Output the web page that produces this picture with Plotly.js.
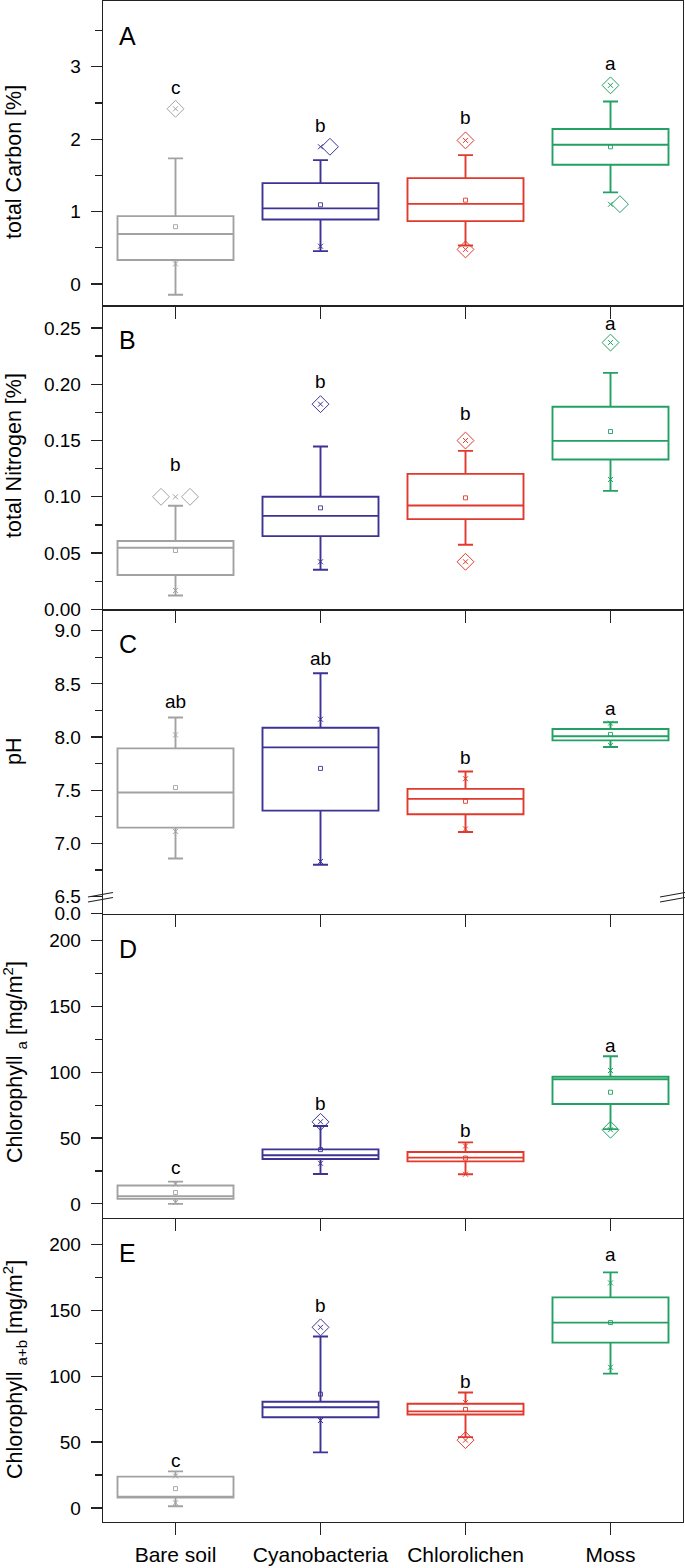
<!DOCTYPE html>
<html>
<head>
<meta charset="utf-8">
<script src="https://cdn.plot.ly/plotly-3.0.1.min.js"></script>
<style>html,body{margin:0;padding:0;background:#fff;}#chart{width:685px;height:1568px;}</style>
</head>
<body>
<div id="chart"></div>
<script>
// ---------------- data ----------------
const categories = ['Bare soil', 'Cyanobacteria', 'Chlorolichen', 'Moss'];

// Panel A: total Carbon [%]
const carbonLow    = [-0.15, 0.452, 0.531, 1.264];
const carbonQ1     = [0.33, 0.89, 0.867, 1.646];
const carbonMedian = [0.69, 1.043, 1.106, 1.923];
const carbonQ3     = [0.936, 1.393, 1.462, 2.14];
const carbonHigh   = [1.734, 1.71, 1.78, 2.52];
const carbonMean   = [0.79, 1.093, 1.157, 1.895];
const carbonP1     = [0.277, 0.52, 0.476, 1.10];
const carbonP99    = [2.42, 1.895, 1.983, 2.744];
const carbonOutliers = [[2.42], [1.895], [1.983, 0.476], [2.744, 1.102]];
const carbonOutlierJitter = [[0], [0.065], [0, 0], [0, 0.065]];
const carbonLetters = ['c', 'b', 'b', 'a'];
const carbonLetterY = [2.72, 2.19, 2.296, 3.05];

// Panel B: total Nitrogen [%]
const nitrogenLow    = [0.0124, 0.0352, 0.0574, 0.1053];
const nitrogenQ1     = [0.0305, 0.0651, 0.0802, 0.1331];
const nitrogenMedian = [0.0547, 0.0831, 0.0923, 0.1497];
const nitrogenQ3     = [0.0607, 0.100, 0.1204, 0.180];
const nitrogenHigh   = [0.092, 0.1447, 0.1408, 0.2101];
const nitrogenMean   = [0.0523, 0.0902, 0.0991, 0.158];
const nitrogenP1     = [0.0168, 0.0423, 0.0423, 0.1154];
const nitrogenP99    = [0.100, 0.1823, 0.150, 0.237];
const nitrogenOutliers = [[0.100, 0.100], [0.1823], [0.150, 0.0423], [0.237]];
const nitrogenOutlierJitter = [[-0.1, 0.1], [0], [0, 0], [0]];
const nitrogenLetters = ['b', 'b', 'b', 'a'];
const nitrogenLetterY = [0.129, 0.2027, 0.174, 0.2536];

// Panel C: pH
const phLow    = [6.858, 6.799, 7.107, 7.906];
const phQ1     = [7.148, 7.308, 7.274, 7.969];
const phMedian = [7.478, 7.903, 7.419, 8.007];
const phQ3     = [7.893, 8.088, 7.513, 8.075];
const phHigh   = [8.183, 8.60, 7.676, 8.139];
const phMean   = [7.525, 7.705, 7.396, 8.025];
const phP1     = [7.113, 6.83, 7.136, 7.92];
const phP99    = [8.02, 8.167, 7.608, 8.13];
const phOutliers = [[], [], [], []];
const phOutlierJitter = [[], [], [], []];
const phLetters = ['ab', 'ab', 'b', 'a'];
const phLetterY = [8.33, 8.736, 7.806, 8.268];
const phTickVals = [6.34, 6.5, 7.0, 7.5, 8.0, 8.5, 9.0];
const phTickText = ['0.0', '6.5', '7.0', '7.5', '8.0', '8.5', '9.0'];
const phMinorVals = [6.75, 7.25, 7.75, 8.25, 8.75];

// Panel D: Chlorophyll a [mg/m2]
const chlaLow    = [0, 22.7, 22.5, 56.8];
const chlaQ1     = [3.8, 34.1, 32.3, 75.8];
const chlaMedian = [5.8, 36.9, 35.1, 94.7];
const chlaQ3     = [13.9, 41.4, 39.4, 96.5];
const chlaHigh   = [16.9, 59.1, 46.7, 112.1];
const chlaMean   = [8.6, 41.2, 34.8, 84.8];
const chlaP1     = [1.0, 30.8, 22.5, 56.3];
const chlaP99    = [15.0, 62.4, 43.9, 101.3];
const chlaOutliers = [[], [62.3], [], [56.3]];
const chlaOutlierJitter = [[], [0], [], [0]];
const chlaLetters = ['c', 'b', 'b', 'a'];
const chlaLetterY = [27.5, 76.3, 55.5, 120.5];

// Panel E: Chlorophyll a+b [mg/m2]
const chlabLow    = [1.3, 42.2, 53.8, 102];
const chlabQ1     = [7.9, 68.9, 71.0, 125.5];
const chlabMedian = [8.6, 76.5, 73.3, 140.7];
const chlabQ3     = [23.8, 80.6, 79.1, 159.8];
const chlabHigh   = [27.8, 130.1, 87.7, 178.8];
const chlabMean   = [14.7, 86.4, 74.8, 140.7];
const chlabP1     = [4.0, 66.4, 51.5, 106.8];
const chlabP99    = [24.3, 137.1, 80.0, 170.8];
const chlabOutliers = [[], [137.1], [51.5], []];
const chlabOutlierJitter = [[], [0], [0], []];
const chlabLetters = ['c', 'b', 'b', 'a'];
const chlabLetterY = [36.1, 153.6, 95.8, 192.4];

// ---------------- styling ----------------
const colors = ['#a2a2a2', '#3d3394', '#e2392d', '#23a064'];
const FONT = 'Liberation Sans, Arial, Helvetica, sans-serif';
const AXC = '#222222';

const panels = [
  {low: carbonLow, q1: carbonQ1, med: carbonMedian, q3: carbonQ3, high: carbonHigh, mean: carbonMean,
   p1: carbonP1, p99: carbonP99, out: carbonOutliers, jit: carbonOutlierJitter, let: carbonLetters, letY: carbonLetterY,
   tag: 'A', title: 'total Carbon [%]', range: [-0.295, 3.91], titleY: 162},
  {low: nitrogenLow, q1: nitrogenQ1, med: nitrogenMedian, q3: nitrogenQ3, high: nitrogenHigh, mean: nitrogenMean,
   p1: nitrogenP1, p99: nitrogenP99, out: nitrogenOutliers, jit: nitrogenOutlierJitter, let: nitrogenLetters, letY: nitrogenLetterY,
   tag: 'B', title: 'total Nitrogen [%]', range: [0, 0.2702], titleY: 456},
  {low: phLow, q1: phQ1, med: phMedian, q3: phQ3, high: phHigh, mean: phMean,
   p1: phP1, p99: phP99, out: phOutliers, jit: phOutlierJitter, let: phLetters, letY: phLetterY,
   tag: 'C', title: 'pH', range: [6.34, 9.2], titleY: 752},
  {low: chlaLow, q1: chlaQ1, med: chlaMedian, q3: chlaQ3, high: chlaHigh, mean: chlaMean,
   p1: chlaP1, p99: chlaP99, out: chlaOutliers, jit: chlaOutlierJitter, let: chlaLetters, letY: chlaLetterY,
   tag: 'D', title: 'Chlorophyll <sub>a</sub> [mg/m<sup>2</sup>]', range: [-10.6, 220.5], titleY: 1062},
  {low: chlabLow, q1: chlabQ1, med: chlabMedian, q3: chlabQ3, high: chlabHigh, mean: chlabMean,
   p1: chlabP1, p99: chlabP99, out: chlabOutliers, jit: chlabOutlierJitter, let: chlabLetters, letY: chlabLetterY,
   tag: 'E', title: 'Chlorophyll <sub>a+b</sub> [mg/m<sup>2</sup>]', range: [-10.6, 220.2], titleY: 1370}
];

// plot area geometry (pixels)
const W = 685, H = 1568, ML = 103, MR = 2, MT = 1, MB = 46;
const PW = W - ML - MR, PH = H - MT - MB;
const pxToPaperY = p => (H - MB - p) / PH;
const pxToPaperX = p => (p - ML) / PW;

const traces = [];
const annotations = [];
const layout = {
  width: W, height: H,
  margin: {l: ML, r: MR, t: MT, b: MB, pad: 0},
  paper_bgcolor: '#ffffff', plot_bgcolor: '#ffffff',
  showlegend: false,
  boxmode: 'overlay',
  font: {family: FONT, color: '#000', size: 19},
  annotations: annotations,
  shapes: []
};

const pos = categories.map((c, i) => i + 1);

panels.forEach((p, k) => {
  const n = k + 1;
  const xa = n === 1 ? 'x' : 'x' + n;
  const ya = n === 1 ? 'y' : 'y' + n;
  const d0 = (4 - k) * 0.2, d1 = d0 + 0.2;

  categories.forEach((c, i) => {
    const col = colors[i];
    traces.push({
      type: 'box', xaxis: xa, yaxis: ya, name: c,
      x: [pos[i]], q1: [p.q1[i]], median: [p.med[i]], q3: [p.q3[i]],
      lowerfence: [p.low[i]], upperfence: [p.high[i]],
      width: 0.8, whiskerwidth: 0.13, boxpoints: false,
      line: {color: col, width: 1.9}, fillcolor: 'rgba(0,0,0,0)',
      hoverinfo: 'skip', showlegend: false
    });
    // mean
    traces.push({
      type: 'scatter', mode: 'markers', xaxis: xa, yaxis: ya,
      x: [pos[i]], y: [p.mean[i]],
      marker: {symbol: 'square-open', size: 4, color: col, line: {width: 0.9, color: col}},
      hoverinfo: 'skip', showlegend: false
    });
    // 1% / 99% markers
    traces.push({
      type: 'scatter', mode: 'markers', xaxis: xa, yaxis: ya,
      x: [pos[i], pos[i]], y: [p.p1[i], p.p99[i]],
      marker: {symbol: 'x-thin-open', size: 5, color: col, line: {width: 1, color: col}},
      hoverinfo: 'skip', showlegend: false
    });
    // outliers
    if (p.out[i].length) {
      traces.push({
        type: 'scatter', mode: 'markers', xaxis: xa, yaxis: ya,
        x: p.out[i].map((v, j) => pos[i] + p.jit[i][j]), y: p.out[i],
        marker: {symbol: 'diamond-open', size: 13, color: col, line: {width: 1, color: col}},
        hoverinfo: 'skip', showlegend: false
      });
    }
    // significance letters
    annotations.push({
      xref: xa, yref: ya, x: pos[i], y: p.letY[i], text: p.let[i],
      showarrow: false, xanchor: 'center', yanchor: 'middle',
      font: {family: FONT, size: 19, color: '#000'}
    });
  });

  // panel tag
  annotations.push({
    xref: 'paper', yref: ya + ' domain', x: pxToPaperX(117), y: 0.885,
    xanchor: 'left', yanchor: 'middle', text: p.tag, showarrow: false,
    font: {family: FONT, size: 25, color: '#000'}
  });
  // y title
  annotations.push({
    xref: 'paper', yref: 'paper', x: pxToPaperX(14), y: pxToPaperY(p.titleY),
    xanchor: 'center', yanchor: 'middle', textangle: -90, text: p.title, showarrow: false,
    font: {family: FONT, size: 21.5, color: '#000'}
  });

  layout['xaxis' + (n === 1 ? '' : n)] = {
    domain: [0, 1], anchor: ya, range: [0.5, 4.5],
    tickmode: 'array', tickvals: pos, ticktext: categories,
    showticklabels: n === 5, ticks: 'outside', ticklen: 12, tickwidth: 1.3, tickcolor: AXC,
    ticklabelstandoff: 1,
    tickfont: {family: FONT, size: 21, color: '#000'},
    showline: true, mirror: n === 1, linecolor: AXC, linewidth: 1.3,
    showgrid: false, zeroline: false, fixedrange: true
  };

  const yax = {
    domain: [d0, d1], anchor: xa, range: p.range,
    ticks: 'outside', ticklen: 11, tickwidth: 1.3, tickcolor: AXC,
    ticklabelstandoff: 6,
    tickfont: {family: FONT, size: 19, color: '#000'},
    showline: true, mirror: true, linecolor: AXC, linewidth: 1.3,
    showgrid: false, zeroline: false, fixedrange: true
  };
  if (n === 1) { yax.tickmode = 'linear'; yax.tick0 = 0; yax.dtick = 1;
    yax.minor = {ticks: 'outside', dtick: 0.5, tick0: 0, ticklen: 7, tickwidth: 1.2, tickcolor: AXC}; }
  if (n === 2) { yax.tickmode = 'linear'; yax.tick0 = 0; yax.dtick = 0.05; yax.tickformat = '.2f';
    yax.minor = {ticks: 'outside', dtick: 0.025, tick0: 0, ticklen: 7, tickwidth: 1.2, tickcolor: AXC}; }
  if (n === 3) { yax.tickmode = 'array'; yax.tickvals = phTickVals; yax.ticktext = phTickText;
    yax.minor = {ticks: 'outside', tickmode: 'array', tickvals: phMinorVals, ticklen: 7, tickwidth: 1.2, tickcolor: AXC}; }
  if (n >= 4) { yax.tickmode = 'linear'; yax.tick0 = 0; yax.dtick = 50;
    yax.minor = {ticks: 'outside', dtick: 25, tick0: 0, ticklen: 7, tickwidth: 1.2, tickcolor: AXC}; }
  layout['yaxis' + (n === 1 ? '' : n)] = yax;
});

// axis-break marks on panel C (left and right frame)
[[88, 113], [660, 685]].forEach(([xa0, xa1]) => {
  [[897, 892.5], [902, 897.5]].forEach(([ya0, ya1]) => {
    layout.shapes.push({
      type: 'line', xref: 'paper', yref: 'paper',
      x0: pxToPaperX(xa0), x1: pxToPaperX(xa1), y0: pxToPaperY(ya0), y1: pxToPaperY(ya1),
      line: {color: AXC, width: 1.2}, layer: 'above'
    });
  });
});

Plotly.newPlot('chart', traces, layout, {staticPlot: true, displayModeBar: false});
</script>
</body>
</html>
